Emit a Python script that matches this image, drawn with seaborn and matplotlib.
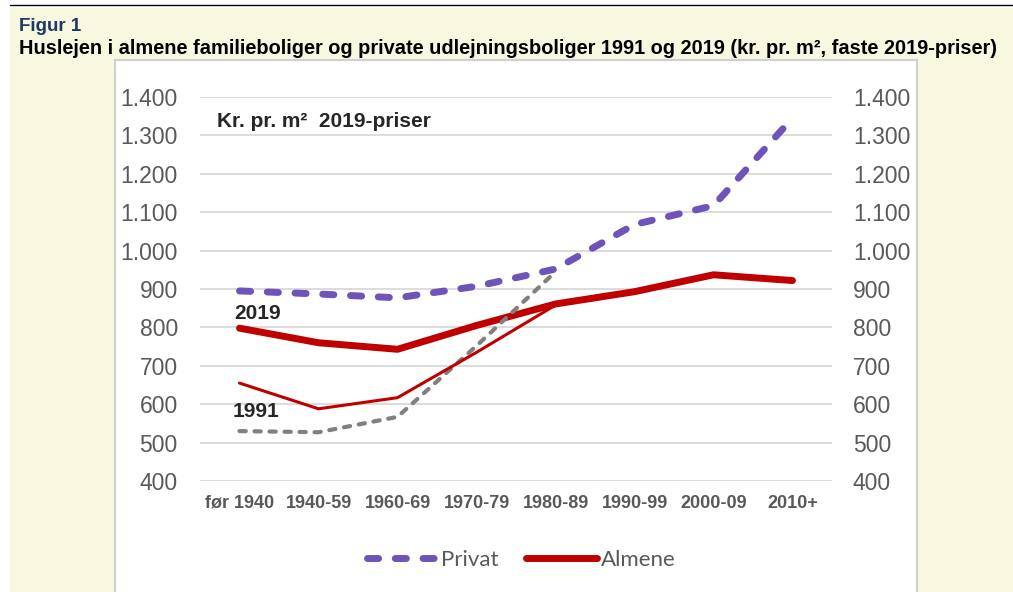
import numpy as np
import pandas as pd
import seaborn as sns
from matplotlib import pyplot as plt
from matplotlib.patches import Rectangle
from matplotlib.lines import Line2D
from matplotlib.ticker import FuncFormatter

# data
perioder = ["før 1940", "1940-59", "1960-69", "1970-79", "1980-89", "1990-99", "2000-09", "2010+"]
privat_2019 = [895, 887, 877, 907, 952, 1068, 1117, 1345]
almene_2019 = [798, 760, 743, 805, 861, 893, 937, 922]
perioder_1991 = perioder[:5]
privat_1991 = [530, 527, 567, 752, 945]
almene_1991 = [655, 588, 617, 735, 858]

yticks = [400, 500, 600, 700, 800, 900, 1000, 1100, 1200, 1300, 1400]

W, H = 1013, 592
sns.set_style("white")
plt.rcParams['font.family'] = ['Liberation Sans', 'DejaVu Sans']

fig = plt.figure(figsize=(W / 100, H / 100), dpi=100)

# background panels
fig.patches.append(Rectangle((10 / W, 0), 1 - 10 / W, 1 - 8 / H, transform=fig.transFigure,
                             facecolor="#F8F8E1", edgecolor="none", zorder=-3))
fig.patches.append(Rectangle((115 / W, -0.01), 802 / W, 1 - 60 / H + 0.01, transform=fig.transFigure,
                             facecolor="white", edgecolor="#D0D0D0", lw=1.5, zorder=-2))
fig.lines.append(Line2D([10 / W, 1], [1 - 5 / H, 1 - 5 / H], transform=fig.transFigure,
                        color="black", lw=1.0))

fig.text(19 / W, 1 - 31 / H, "Figur 1", color="#1F3864", fontsize=13.5, fontweight="bold", va="baseline")
fig.text(19 / W, 1 - 54 / H,
         "Huslejen i almene familieboliger og private udlejningsboliger 1991 og 2019 (kr. pr. m², faste 2019-priser)",
         color="black", fontsize=14.4, fontweight="bold", va="baseline")

ax = fig.add_axes([200 / W, 111 / H, 632 / W, 384 / H])
ax.set_facecolor("none")

df19 = pd.DataFrame({"periode": perioder, "privat": privat_2019, "almene": almene_2019})
df91 = pd.DataFrame({"periode": perioder_1991, "privat": privat_1991, "almene": almene_1991})

purple = "#6F53B9"
red = "#C00000"
grey = "#808080"

sns.lineplot(data=df19, x="periode", y="privat", sort=False, color=purple, lw=5, ax=ax)
l_priv = ax.lines[-1]
l_priv.set_dashes((1.6, 2.4))
l_priv.set_dash_capstyle("round")

sns.lineplot(data=df19, x="periode", y="almene", sort=False, color=red, lw=5, ax=ax)
ax.lines[-1].set_solid_capstyle("round")

sns.lineplot(data=df91, x="periode", y="privat", sort=False, color=grey, lw=3, ax=ax)
ax.lines[-1].set_dashes((1.5, 2.1))
ax.lines[-1].set_dash_capstyle("round")

sns.lineplot(data=df91, x="periode", y="almene", sort=False, color=red, lw=2.2, ax=ax)

ax.set_xlim(-0.5, len(perioder) - 0.5)
ax.set_ylim(400, 1400)
ax.set_yticks(yticks)
fmt = FuncFormatter(lambda v, p: f"{int(v):,}".replace(",", "."))
ax.yaxis.set_major_formatter(fmt)
ax.grid(axis="y", color="#D9D9D9", lw=1.3)
ax.set_axisbelow(True)
for s in ax.spines.values():
    s.set_visible(False)
ax.set_xlabel("")
ax.set_ylabel("")
ax.tick_params(axis="y", length=0, pad=16, labelsize=16.5, labelcolor="#595959")
ax.tick_params(axis="x", length=0, pad=10, labelsize=13, labelcolor="#595959")
for t in ax.get_xticklabels():
    t.set_fontweight("bold")

ax2 = ax.twinx()
ax2.set_ylim(ax.get_ylim())
ax2.set_yticks(yticks)
ax2.yaxis.set_major_formatter(fmt)
for s in ax2.spines.values():
    s.set_visible(False)
ax2.tick_params(axis="y", length=0, pad=15, labelsize=16.5, labelcolor="#595959")

ax.text(0.027, 0.935, "Kr. pr. m²  2019-priser", transform=ax.transAxes, fontsize=15,
        fontweight="bold", va="center")
ax.text(-0.07, 836, "2019", fontsize=15, fontweight="bold", va="center")
ax.text(-0.09, 580, "1991", fontsize=15, fontweight="bold", va="center")

h_priv = Line2D([], [], color=purple, lw=5, dashes=(1.6, 2.4), dash_capstyle="round")
h_alm = Line2D([], [], color=red, lw=5, solid_capstyle="round")
fig.legend([h_priv, h_alm], ["Privat", "Almene"], loc="center",
           bbox_to_anchor=(521 / W, 1 - 560 / H), ncol=2, frameon=False,
           handlelength=3.2, handletextpad=0.15, columnspacing=1.25,
           prop={"family": "Lato", "size": 16}, labelcolor="#595959")

fig.savefig("out.png", dpi=100)
